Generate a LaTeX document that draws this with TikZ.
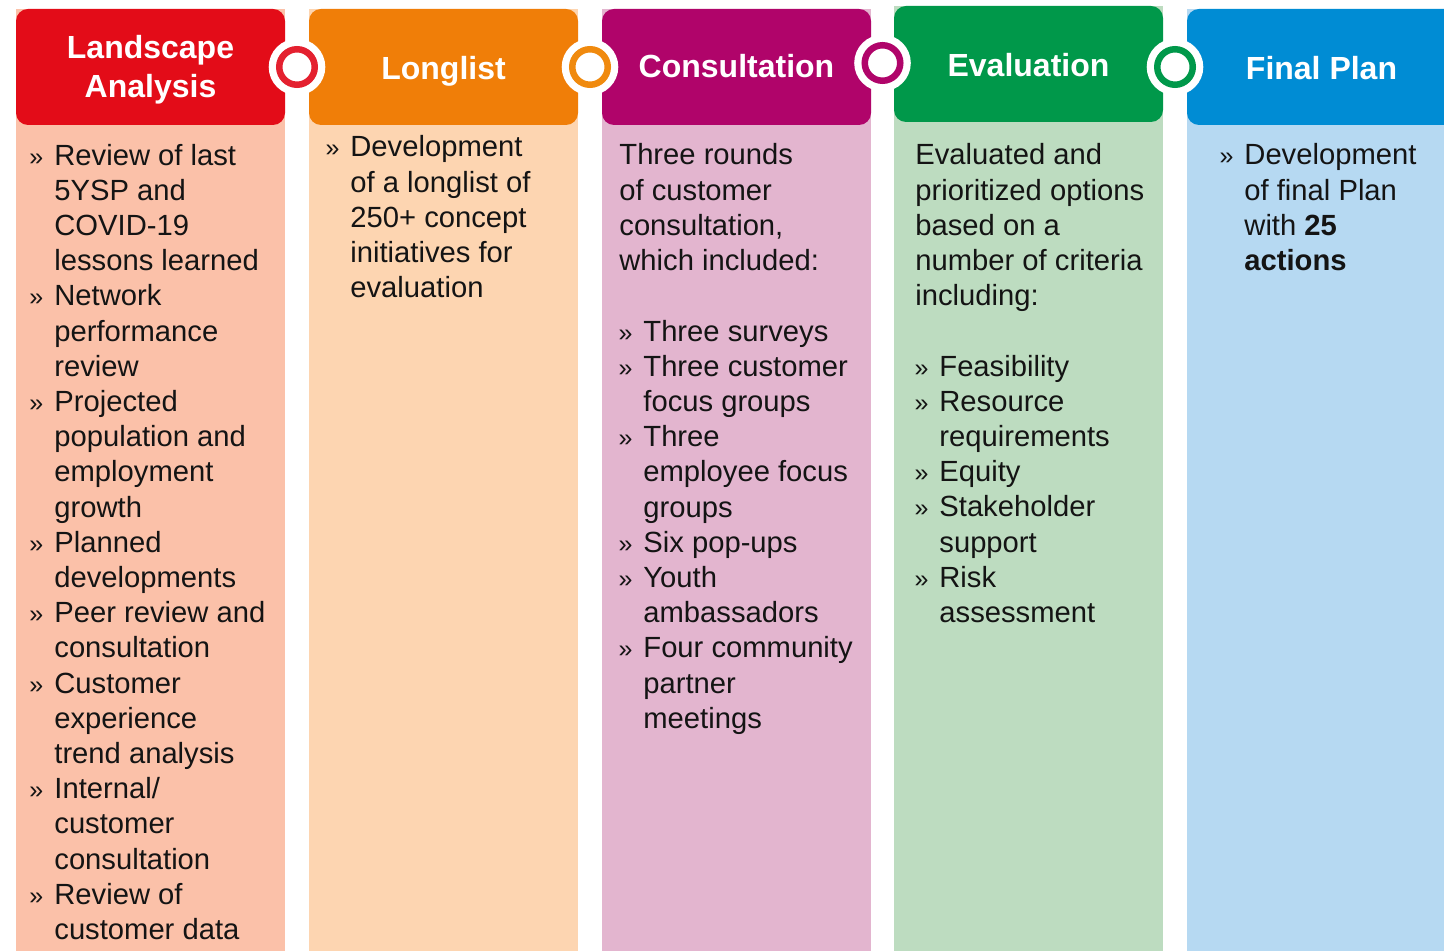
\documentclass[tikz,border=0pt]{standalone}
\usepackage{fontspec}
\setmainfont{Liberation Sans}
\definecolor{hRed}{HTML}{E30C18}
\definecolor{lRed}{HTML}{FBC1A9}
\definecolor{rRed}{HTML}{E4202F}
\definecolor{hOrange}{HTML}{F07E08}
\definecolor{lOrange}{HTML}{FDD5B1}
\definecolor{rOrange}{HTML}{F08A0E}
\definecolor{hPurple}{HTML}{B0046A}
\definecolor{lPurple}{HTML}{E3B5CF}
\definecolor{hGreen}{HTML}{00984A}
\definecolor{lGreen}{HTML}{BDDCC0}
\definecolor{hBlue}{HTML}{008CD4}
\definecolor{lBlue}{HTML}{B6D9F2}
\newcommand\bul{\llap{\fontsize{12.5}{12}\selectfont »\hspace{5.5pt}}}
\begin{document}
\begin{tikzpicture}[x=0.5pt,y=-0.5pt,
  hdr/.style={rectangle, rounded corners=6pt, minimum width=134.5pt, minimum height=58pt, inner sep=0pt, fill=#1},
  htxt/.style={text=white, font=\fontsize{16}{19.5}\selectfont\bfseries, align=center, anchor=base, inner sep=0pt},
  btxt/.style={text=black!92, font=\fontsize{14.6}{17.6}\selectfont, align=left, anchor=base west, inner sep=0pt},
  ring/.style={circle, inner sep=0pt, minimum size=17.75pt, fill=white, draw=#1, line width=3.25pt, preaction={draw=white, line width=10.5pt}}]
\useasboundingbox (0,0) rectangle (1444,951);
\clip (0,0) rectangle (1444,951);
\fill[white] (0,0) rectangle (1444,951);
% column bodies
\fill[lRed] (16,9) rectangle (285,960);
\fill[lOrange] (309,9) rectangle (578,960);
\fill[lPurple] (602,9) rectangle (871,960);
\fill[lGreen] (894,6) rectangle (1163,960);
\fill[lBlue] (1187,9) rectangle (1456,960);
% headers
\node[hdr=hRed] (h1) at (150.5,67) {};
\node[hdr=hOrange] (h2) at (443.5,67) {};
\node[hdr=hPurple] (h3) at (736.5,67) {};
\node[hdr=hGreen] (h4) at (1028.5,64) {};
\node[hdr=hBlue] (h5) at (1321.5,67) {};
% (anchor=base of a multi-line node = baseline of its last line)
\node[htxt] (t1) at (150.5,98) {Landscape\\Analysis};
\node[htxt] (t2) at (443.5,80) {Longlist};
\node[htxt] (t3) at (736.5,78) {Consultation};
\node[htxt] (t4) at (1028.5,77) {Evaluation};
\node[htxt] (t5) at (1321.5,80) {Final Plan};
% rings
\node[ring=rRed] (r1) at (297,67) {};
\node[ring=rOrange] (r2) at (590,67) {};
\node[ring=hPurple] (r3) at (882.5,63) {};
\node[ring=hGreen] (r4) at (1175,67) {};
% body texts
\node[btxt] (b1) at (54,939.4) {\bul Review of last\\5YSP and\\COVID-19\\lessons learned\\
\bul Network\\performance\\review\\
\bul Projected\\population and\\employment\\growth\\
\bul Planned\\developments\\
\bul Peer review and\\consultation\\
\bul Customer\\experience\\trend analysis\\
\bul Internal/\\customer\\consultation\\
\bul Review of\\customer data};
\node[btxt] (b2) at (350,297.8) {\bul Development\\of a longlist of\\250+ concept\\initiatives for\\evaluation};
\node[btxt] (b3) at (619,270.6) {Three rounds\\of customer\\consultation,\\which included:};
\node[btxt] (b3l) at (643,728.2) {\bul Three surveys\\
\bul Three customer\\focus groups\\
\bul Three\\employee focus\\groups\\
\bul Six pop-ups\\
\bul Youth\\ambassadors\\
\bul Four community\\partner\\meetings};
\node[btxt] (b4) at (915,305.8) {Evaluated and\\prioritized options\\based on a\\number of criteria\\including:};
\node[btxt] (b4l) at (939,622.4) {\bul Feasibility\\
\bul Resource\\requirements\\
\bul Equity\\
\bul Stakeholder\\support\\
\bul Risk\\assessment};
\node[btxt] (b5) at (1244,270.6) {\bul Development\\of final Plan\\with \textbf{25}\\\textbf{actions}};
\end{tikzpicture}
\end{document}
